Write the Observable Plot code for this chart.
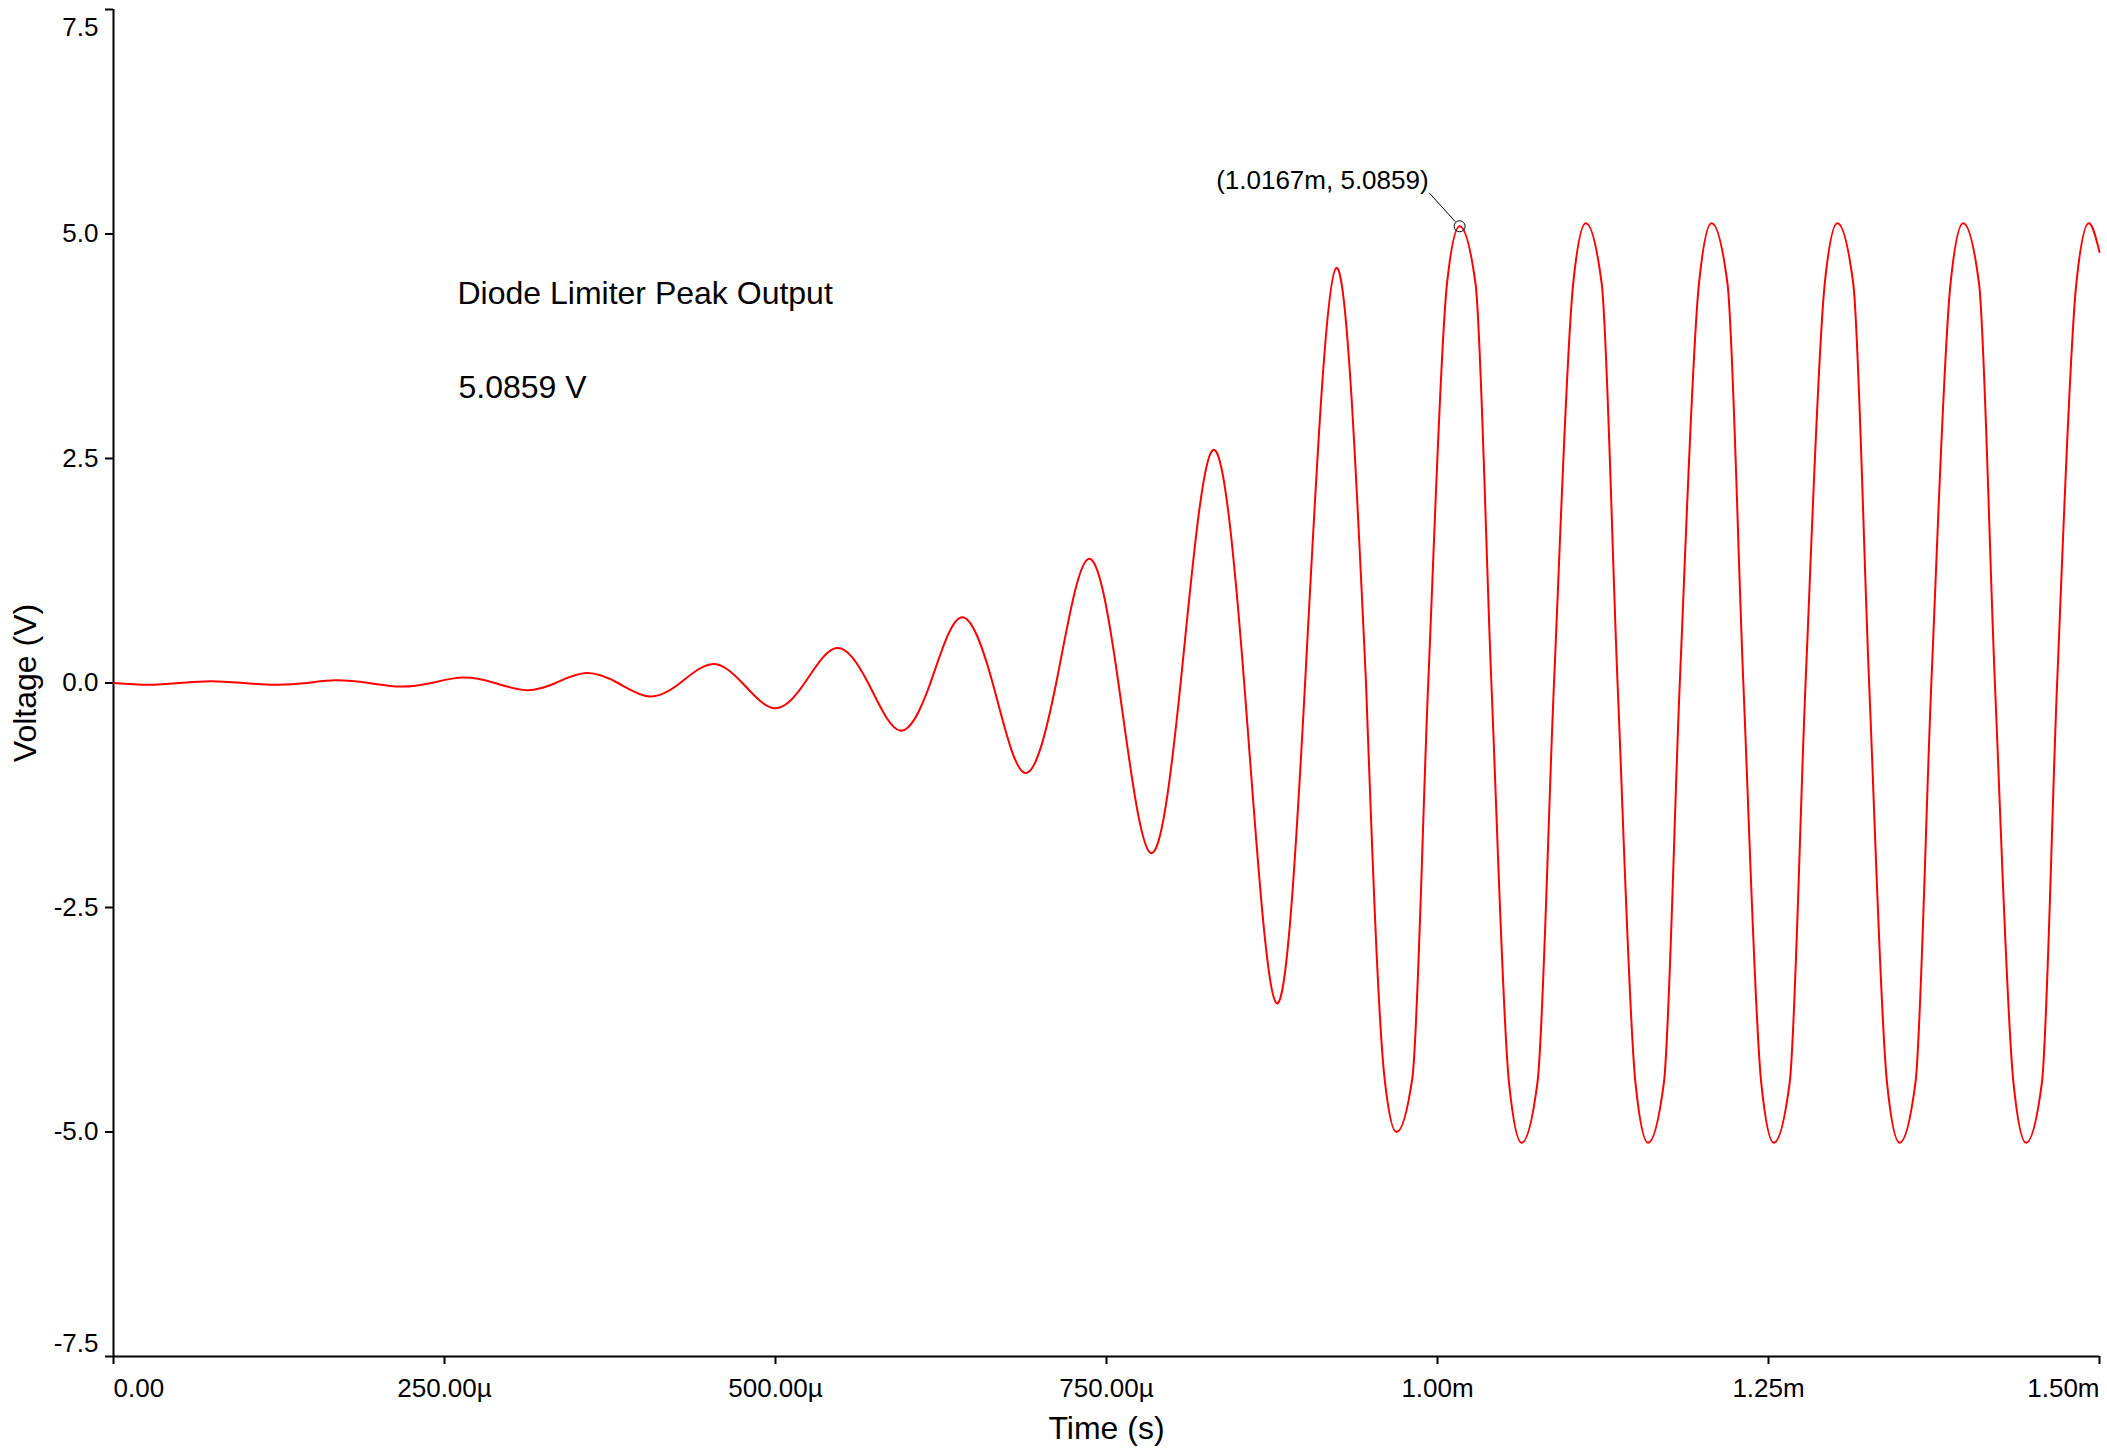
<!DOCTYPE html>
<html>
<head>
<meta charset="utf-8">
<script src="https://cdn.jsdelivr.net/npm/d3@7"></script>
<script src="https://cdn.jsdelivr.net/npm/@observablehq/plot@0.6"></script>
<style>
html, body { margin: 0; padding: 0; background: #fff; overflow: hidden; }
svg { display: block; }
</style>
</head>
<body>
<div id="chart"></div>
<script>
// Time in microseconds (extrema, zero crossings, clipping shoulders)
const timeUs = [
  0, 26, 50, 74, 98, 123, 146, 168, 193, 217, 240, 264, 288, 312, 334, 357, 381, 405, 428, 452,
  475, 499, 522, 546, 570, 594, 617, 640, 664, 688, 712, 736, 759, 783, 806, 830, 854, 878, 900, 923.5,
  946, 960, 969, 981, 993, 1007.2, 1016.7, 1028.7, 1040.7, 1054, 1063.5, 1075.5, 1088,
  1102.5, 1112, 1124, 1136, 1149.5, 1159, 1171, 1183,
  1197.5, 1207, 1219, 1231, 1244.5, 1254, 1266, 1278,
  1292.5, 1302, 1314, 1326, 1339.5, 1349, 1361, 1373,
  1387.5, 1397, 1409, 1421, 1435, 1444.5, 1456.5, 1468,
  1482.5, 1492, 1500
];
// Voltage in volts at those times
const voltage = [
  0, -0.02, 0, 0.02, 0, -0.02, 0, 0.03, 0, -0.04, 0, 0.06, 0, -0.08, 0, 0.11, 0, -0.15, 0, 0.21,
  0, -0.28, 0, 0.39, 0, -0.53, 0, 0.73, 0, -1.00, 0, 1.38, 0, -1.89, 0, 2.59, 0, -3.56, 0, 4.62,
  0, -4.40, -5.00, -4.40, 0, 4.45, 5.0859, 4.45, 0, -4.45, -5.12, -4.45, 0,
  4.45, 5.12, 4.45, 0, -4.45, -5.12, -4.45, 0,
  4.45, 5.12, 4.45, 0, -4.45, -5.12, -4.45, 0,
  4.45, 5.12, 4.45, 0, -4.45, -5.12, -4.45, 0,
  4.45, 5.12, 4.45, 0, -4.45, -5.12, -4.45, 0,
  4.45, 5.12, 4.80
];
// time where the growing (unclipped) part hands over to the clipped part
const clipStartUs = 946;

const xTicks = [0, 250, 500, 750, 1000, 1250, 1500];
const xTickLabels = ["0.00", "250.00µ", "500.00µ", "750.00µ", "1.00m", "1.25m", "1.50m"];
const yTicks = [7.5, 5, 2.5, 0, -2.5, -5, -7.5];
const yTickLabels = ["7.5", "5.0", "2.5", "0.0", "-2.5", "-5.0", "-7.5"];

const peakTime = [1016.7];
const peakVoltage = [5.0859];
const peakTag = ["(1.0167m, 5.0859)"];
const notes = ["Diode Limiter Peak Output", "5.0859 V"];
const axisTitles = ["Time (s)", "Voltage (V)"];

const wave = timeUs.map((t, i) => ({t, v: voltage[i]}));
const split = timeUs.indexOf(clipStartUs);
const waveGrowing = wave.slice(0, split + 1);
const waveClipped = wave.slice(split);
const peak = peakTime.map((t, i) => ({t, v: peakVoltage[i], label: peakTag[i]}));
const xFmt = d => xTickLabels[xTicks.indexOf(d)];
const yFmt = d => yTickLabels[yTicks.indexOf(d)];
const font = "'Liberation Sans', Arial, Helvetica, sans-serif";
const tickFont = 26;
const bigFont = 32;

const leader = (index, scales) => {
  const g = d3.create("svg:g");
  peak.forEach(d => {
    const px = scales.x(d.t), py = scales.y(d.v);
    g.append("line")
      .attr("x1", px - 30).attr("y1", py - 33)
      .attr("x2", px - 3.7).attr("y2", py - 4)
      .attr("stroke", "#000").attr("stroke-width", 1);
  });
  return g.node();
};

const chart = Plot.plot({
  width: 2107,
  height: 1449,
  marginLeft: 113,
  marginRight: 8,
  marginTop: 9,
  marginBottom: 93,
  style: {fontFamily: font, background: "#fff", color: "#000"},
  x: {domain: [xTicks[0], xTicks[xTicks.length - 1]]},
  y: {domain: [yTicks[yTicks.length - 1], yTicks[0]]},
  marks: [
    // x axis
    Plot.axisX(xTicks.slice(1, -1), {tickSize: 8, tickPadding: 14, tickFormat: xFmt, fontSize: tickFont, strokeWidth: 2, label: null}),
    Plot.axisX([xTicks[0]], {tickSize: 8, tickPadding: 14, tickFormat: xFmt, fontSize: tickFont, strokeWidth: 2, textAnchor: "start", label: null}),
    Plot.axisX([xTicks[xTicks.length - 1]], {tickSize: 8, tickPadding: 14, tickFormat: xFmt, fontSize: tickFont, strokeWidth: 2, textAnchor: "end", label: null}),
    // y axis
    Plot.axisY(yTicks.slice(1, -1), {tickSize: 8, tickPadding: 7, tickFormat: yFmt, fontSize: tickFont, strokeWidth: 2, label: null}),
    Plot.axisY([yTicks[0], yTicks[yTicks.length - 1]], {tickSize: 8, tickFormat: () => "", strokeWidth: 2, label: null}),
    Plot.axisY([yTicks[0]], {tickSize: 0, tickPadding: 15, dy: 18, tickFormat: yFmt, fontSize: tickFont, label: null}),
    Plot.axisY([yTicks[yTicks.length - 1]], {tickSize: 0, tickPadding: 15, dy: -13, tickFormat: yFmt, fontSize: tickFont, label: null}),
    Plot.ruleX([xTicks[0]], {stroke: "#000", strokeWidth: 2}),
    Plot.ruleY([yTicks[yTicks.length - 1]], {stroke: "#000", strokeWidth: 2}),
    // axis titles
    Plot.text([axisTitles[0]], {text: d => d, frameAnchor: "bottom", dy: 72, textAnchor: "middle", lineAnchor: "middle", fontSize: bigFont}),
    Plot.text([axisTitles[1]], {text: d => d, frameAnchor: "left", dx: -88, rotate: -90, textAnchor: "middle", lineAnchor: "middle", fontSize: bigFont}),
    // waveform
    Plot.line(waveGrowing, {x: "t", y: "v", stroke: "#ff0000", strokeWidth: 2, curve: "natural"}),
    Plot.line(waveClipped, {x: "t", y: "v", stroke: "#ff0000", strokeWidth: 2, curve: "monotone-x"}),
    // peak marker
    Plot.dot(peak, {x: "t", y: "v", r: 5.5, stroke: "#000", strokeWidth: 1, fill: "none"}),
    leader,
    Plot.text(peak, {x: "t", y: "v", text: "label", dx: -31, dy: -46, textAnchor: "end", lineAnchor: "middle", fontSize: tickFont}),
    // annotations
    Plot.text([notes[0]], {text: d => d, frameAnchor: "top-left", dx: 344, dy: 284, textAnchor: "start", lineAnchor: "middle", fontSize: bigFont}),
    Plot.text([notes[1]], {text: d => d, frameAnchor: "top-left", dx: 345, dy: 378, textAnchor: "start", lineAnchor: "middle", fontSize: bigFont})
  ]
});
document.getElementById("chart").appendChild(chart);
</script>
</body>
</html>
